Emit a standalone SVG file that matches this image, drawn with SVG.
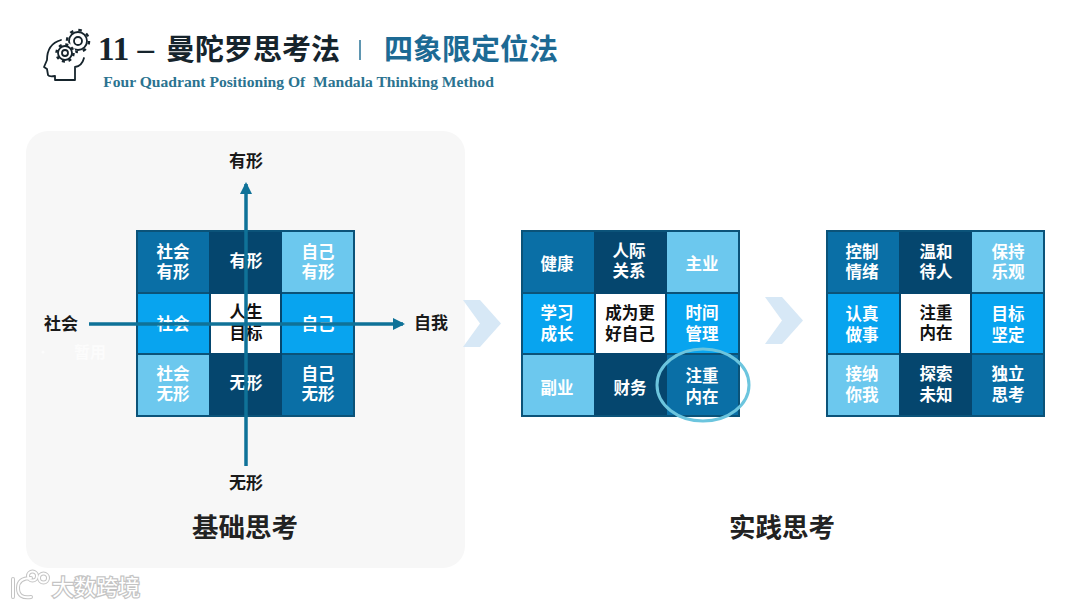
<svg xmlns="http://www.w3.org/2000/svg" width="1080" height="608" viewBox="0 0 1080 608">
<style>
text{font-family:"Noto Sans CJK SC","Liberation Serif",sans-serif;font-weight:700;text-anchor:middle}
.t{font-size:16.500px;fill:#fff}
.k{font-size:16.500px;fill:#111}
.l{font-size:17px;fill:#1a1a1a}
.cap{font-size:26.500px;fill:#222}
.frame{fill:#0b5379}
.a{fill:#0a6fa6}.b{fill:#05466e}.c{fill:#6cc8ee}.d{fill:#08a4ef}.w{fill:#fff}
.ln{stroke:#0f7298;stroke-width:3.500;fill:none}
.ic{fill:none;stroke:#16242c;stroke-width:1.800;stroke-linejoin:round;stroke-linecap:round}
.teeth{fill:none;stroke:#16242c;stroke-width:2.500}
.wm{fill:none;stroke-linecap:round}
</style>
<defs>
<marker id="ah" markerUnits="userSpaceOnUse" markerWidth="12" markerHeight="12" refX="10" refY="6" orient="auto"><path d="M0 0L12 6L0 12Z" fill="#0f7298"/></marker>
<g id="cells">
<rect class="frame" width="219" height="187"/>
<rect class="a" x="2" y="2" width="71" height="60"/>
<rect class="b" x="73" y="2" width="73" height="183"/>
<rect class="c" x="146" y="2" width="71" height="60"/>
<rect class="d" x="2" y="64" width="71" height="59"/>
<rect class="w" x="75" y="64" width="69" height="59"/>
<rect class="d" x="146" y="64" width="71" height="59"/>
<rect class="c" x="2" y="125" width="71" height="60"/>
<rect class="a" x="146" y="125" width="71" height="60"/>
</g>
<path id="chev" d="M0 0H17L38 23.500L17 47H0L17 23.500Z" fill="#d7e8f6"/>
<path id="wmlogo" d="M13 579V597M31 578Q18 578 18 588Q18 599 31 597M28 576a4.500 4.500 0 1 0 9 0a4.500 4.500 0 1 0 -9 0M39 578a4.500 4.500 0 1 0 9 0a4.500 4.500 0 1 0 -9 0"/>
</defs>
<rect width="1080" height="608" fill="#fff"/>
<rect id="panel" x="26" y="131" width="439" height="437" rx="22" fill="#f7f7f7"/>

<g id="title">
<path class="ic" d="M61 40Q47 44 47 60L44 67L47 69L48 75Q49 77 55 76V80H75V67Q82 66 84 58"/>
<circle class="ic" cx="78" cy="41" r="9"/>
<circle class="ic" cx="78" cy="41" r="4"/>
<circle class="teeth" cx="78" cy="41" r="11" stroke-dasharray="3.500 5.140"/>
<circle cx="65" cy="53" r="10.500" fill="#fff"/>
<circle class="ic" cx="65" cy="53" r="7"/>
<circle class="ic" cx="65" cy="53" r="3"/>
<circle class="teeth" cx="65" cy="53" r="8.500" stroke-dasharray="3 3.680"/>
<text x="126" y="60" style="font-family:'Liberation Serif',serif;font-size:33px;fill:#16242c">11 –</text>
<text x="253" y="60" style="font-size:29px;fill:#16242c">曼陀罗思考法</text>
<path d="M360 40V60" stroke="#2a7397" stroke-width="1.500"/>
<text x="471" y="60" style="font-size:29px;fill:#1d6a94">四象限定位法</text>
<text x="298.500" y="87" style="font-family:'Liberation Serif',serif;font-size:15.600px;fill:#2b7390;white-space:pre">Four Quadrant Positioning Of  Mandala Thinking Method</text>
</g>

<g id="grid-basic" transform="translate(136 230)">
<use href="#cells"/>
<text class="t" x="37"><tspan x="37" y="28">社会</tspan><tspan x="37" y="48">有形</tspan></text>
<text class="t" x="110" y="37">有形</text>
<text class="t"><tspan x="182" y="28">自己</tspan><tspan x="182" y="48">有形</tspan></text>
<text class="t" x="37" y="100">社会</text>
<text class="k"><tspan x="110" y="88">人生</tspan><tspan x="110" y="109">目标</tspan></text>
<text class="t" x="182" y="100">自己</text>
<text class="t"><tspan x="37" y="150">社会</tspan><tspan x="37" y="170">无形</tspan></text>
<text class="t" x="110" y="159">无形</text>
<text class="t"><tspan x="182" y="150">自己</tspan><tspan x="182" y="170">无形</tspan></text>
</g>

<g id="connectors">
<path class="ln" d="M246 466V184" marker-end="url(#ah)"/>
<path class="ln" d="M89 324H403" marker-end="url(#ah)"/>
</g>

<g id="axis-labels">
<text class="l" x="246" y="167">有形</text>
<text class="l" x="246" y="489">无形</text>
<text class="l" x="61" y="330">社会</text>
<text class="l" x="431" y="329">自我</text>
</g>

<g id="ghost" opacity=".7">
<circle cx="43" cy="352" r="1.500" fill="#fff"/>
<text x="90" y="358" style="font-size:16px;fill:#fff">暂用</text>
</g>

<use id="chevron-1" href="#chev" x="463" y="300"/>
<use id="chevron-2" href="#chev" x="765" y="297"/>

<g id="grid-practice-1" transform="translate(521 230)">
<use href="#cells"/>
<text class="t" x="36" y="40">健康</text>
<text class="t"><tspan x="108" y="27">人际</tspan><tspan x="108" y="47">关系</tspan></text>
<text class="t" x="181" y="40">主业</text>
<text class="t"><tspan x="36" y="89">学习</tspan><tspan x="36" y="110">成长</tspan></text>
<text class="k"><tspan x="109" y="89">成为更</tspan><tspan x="109" y="110">好自己</tspan></text>
<text class="t"><tspan x="181" y="89">时间</tspan><tspan x="181" y="110">管理</tspan></text>
<text class="t" x="36" y="164">副业</text>
<text class="t" x="109" y="164">财务</text>
<text class="t"><tspan x="181" y="152">注重</tspan><tspan x="181" y="173">内在</tspan></text>
</g>
<ellipse id="highlight" cx="703" cy="385" rx="46" ry="36" fill="none" stroke="#6cc5de" stroke-width="3"/>

<g id="grid-practice-2" transform="translate(826 230)">
<use href="#cells"/>
<text class="t"><tspan x="36" y="28">控制</tspan><tspan x="36" y="48">情绪</tspan></text>
<text class="t"><tspan x="110" y="28">温和</tspan><tspan x="110" y="48">待人</tspan></text>
<text class="t"><tspan x="182" y="28">保持</tspan><tspan x="182" y="48">乐观</tspan></text>
<text class="t"><tspan x="36" y="90">认真</tspan><tspan x="36" y="111">做事</tspan></text>
<text class="k"><tspan x="110" y="89">注重</tspan><tspan x="110" y="109">内在</tspan></text>
<text class="t"><tspan x="182" y="90">目标</tspan><tspan x="182" y="111">坚定</tspan></text>
<text class="t"><tspan x="36" y="150">接纳</tspan><tspan x="36" y="171">你我</tspan></text>
<text class="t"><tspan x="110" y="150">探索</tspan><tspan x="110" y="171">未知</tspan></text>
<text class="t"><tspan x="182" y="150">独立</tspan><tspan x="182" y="171">思考</tspan></text>
</g>

<text id="caption-1" class="cap" x="245" y="537">基础思考</text>
<text id="caption-2" class="cap" x="782" y="537">实践思考</text>

<g id="watermark">
<use href="#wmlogo" class="wm" stroke="#c4c4c4" stroke-width="4"/>
<use href="#wmlogo" class="wm" stroke="#fff" stroke-width="2"/>
<text x="96" y="595" style="font-size:22px;fill:#fff;stroke:#c4c4c4;stroke-width:2.500;paint-order:stroke;font-weight:400">大数跨境</text>
</g>
</svg>
